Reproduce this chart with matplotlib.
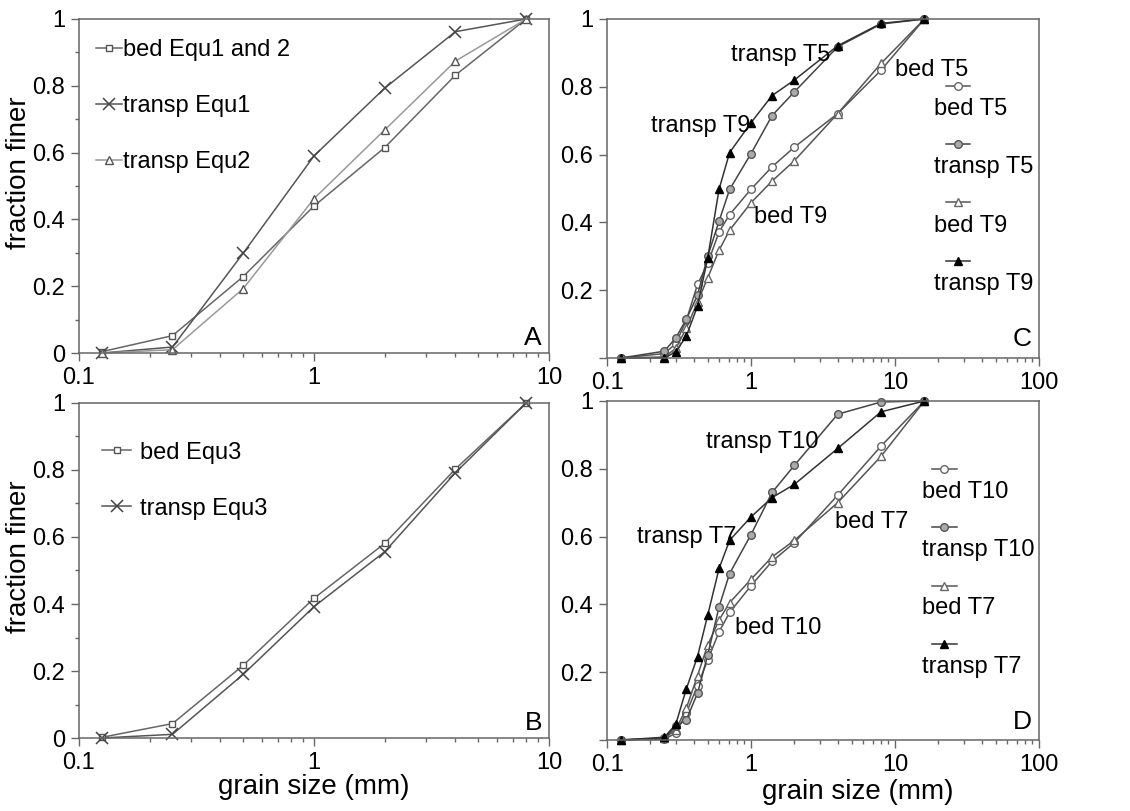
import matplotlib
matplotlib.use("Agg")
import matplotlib.pyplot as plt
import numpy as np

plt.rcParams['font.family'] = ['Liberation Sans', 'DejaVu Sans']

# sieve sizes (mm)
sizes_ab = [0.125, 0.25, 0.5, 1, 2, 4, 8]
sizes_cd = [0.125, 0.25, 0.3, 0.355, 0.425, 0.5, 0.6, 0.71, 1, 1.4, 2, 4, 8, 16]

# panel A
bed_equ12 = [0.004, 0.052, 0.229, 0.44, 0.615, 0.832, 1.0]
transp_equ1 = [0.0, 0.018, 0.299, 0.59, 0.793, 0.962, 1.0]
transp_equ2 = [0.0, 0.01, 0.193, 0.462, 0.668, 0.874, 1.0]

# panel B
bed_equ3 = [0.002, 0.043, 0.217, 0.417, 0.581, 0.803, 1.0]
transp_equ3 = [0.0, 0.011, 0.19, 0.392, 0.556, 0.792, 1.0]

# panel C
bed_t5 = [0.0, 0.013, 0.042, 0.111, 0.217, 0.279, 0.372, 0.423, 0.498, 0.564, 0.622, 0.721, 0.849, 1.0]
transp_t5 = [0.0, 0.02, 0.059, 0.114, 0.185, 0.30, 0.404, 0.497, 0.603, 0.715, 0.785, 0.918, 0.985, 1.0]
bed_t9 = [0.0, 0.003, 0.028, 0.087, 0.165, 0.236, 0.318, 0.377, 0.458, 0.522, 0.582, 0.721, 0.869, 1.0]
transp_t9 = [0.0, 0.0, 0.018, 0.064, 0.153, 0.295, 0.498, 0.606, 0.694, 0.774, 0.82, 0.921, 0.987, 1.0]

# panel D
bed_t10 = [0.0, 0.002, 0.02, 0.079, 0.16, 0.236, 0.319, 0.376, 0.455, 0.527, 0.582, 0.722, 0.867, 1.0]
transp_t10 = [0.0, 0.005, 0.04, 0.059, 0.138, 0.25, 0.393, 0.491, 0.606, 0.73, 0.81, 0.961, 0.997, 1.0]
bed_t7 = [0.0, 0.005, 0.03, 0.093, 0.19, 0.28, 0.354, 0.405, 0.474, 0.54, 0.589, 0.70, 0.837, 1.0]
transp_t7 = [0.0, 0.008, 0.046, 0.15, 0.246, 0.368, 0.506, 0.589, 0.658, 0.715, 0.754, 0.86, 0.968, 1.0]

FS = 17
frame_col = '#666666'

# marker styles
sq = dict(marker='s', ms=5, mfc='white', mec='#555555', color='#666666', lw=1.1)
cross = dict(marker='x', ms=8, mew=1.1, mec='#444444', color='#555555', lw=1.1)
tri_open_ab = dict(marker='^', ms=6, mfc='white', mec='#555555', color='#999999', lw=1.1)
circ_open = dict(marker='o', ms=5.5, mfc='white', mec='#666666', color='#555555', lw=1.1)
circ_grey = dict(marker='o', ms=5.5, mfc='#aaaaaa', mec='#555555', color='#444444', lw=1.1)
tri_open = dict(marker='^', ms=6, mfc='white', mec='#666666', color='#555555', lw=1.1)
tri_black = dict(marker='^', ms=6, mfc='black', mec='black', color='#333333', lw=1.1)


def style_axes(ax, xmax, zero_label=True, yminor=True):
    ax.set_xscale('log')
    ax.set_xlim(0.1, xmax)
    ax.set_ylim(0, 1)
    xt = [10.0 ** k for k in range(-1, int(np.log10(xmax)) + 1)]
    ax.set_xticks(xt)
    ax.set_xticklabels([('%g' % v) for v in xt])
    yt = [0, 0.2, 0.4, 0.6, 0.8, 1]
    ax.set_yticks(yt)
    ylabels = ['0', '0.2', '0.4', '0.6', '0.8', '1']
    if not zero_label:
        ylabels[0] = ''
    ax.set_yticklabels(ylabels)
    if yminor:
        ax.set_yticks(np.arange(0.1, 1.0, 0.2), minor=True)
    else:
        ax.set_yticks([], minor=True)
    ax.tick_params(which='both', direction='out', colors=frame_col,
                   labelcolor='black', labelsize=FS, width=1)
    ax.tick_params(which='major', length=6, pad=4)
    ax.tick_params(which='minor', length=3)
    for s in ax.spines.values():
        s.set_color(frame_col)
        s.set_linewidth(1.1)


def side_legend(ax, entries, mx, lx, marker_ys, label_ys):
    for (label, st), my, ly in zip(entries, marker_ys, label_ys):
        ax.plot([mx - 0.028, mx, mx + 0.028], [my, my, my], transform=ax.transAxes,
                clip_on=False, markevery=[1], **st)
        ax.text(lx, ly, label, transform=ax.transAxes, ha='left', va='center', fontsize=FS)


fig = plt.figure(figsize=(11.3, 8.11), dpi=100)
axA = fig.add_axes([0.0699, 0.5647, 0.4159, 0.4119])
axB = fig.add_axes([0.0699, 0.0900, 0.4159, 0.4131])
axC = fig.add_axes([0.5372, 0.5586, 0.3823, 0.4180])
axD = fig.add_axes([0.5372, 0.0876, 0.3823, 0.4180])

# ---- A
axA.plot(sizes_ab, bed_equ12, label='bed Equ1 and 2', clip_on=False, **sq)
axA.plot(sizes_ab, transp_equ1, label='transp Equ1', clip_on=False, **cross)
axA.plot(sizes_ab, transp_equ2, label='transp Equ2', clip_on=False, **tri_open_ab)
style_axes(axA, 10)
axA.set_ylabel('fraction finer', fontsize=20)
axA.yaxis.set_label_coords(-0.1, 0.54)
axA.legend(loc='upper left', bbox_to_anchor=(0.036, 0.94), frameon=False, fontsize=FS,
           handlelength=1.1, handletextpad=0.05, labelspacing=1.45, borderaxespad=0,
           borderpad=0, numpoints=1)
axA.text(0.985, 0.045, 'A', transform=axA.transAxes, ha='right', va='center', fontsize=19)

# ---- B
axB.plot(sizes_ab, bed_equ3, label='bed Equ3', clip_on=False, **sq)
axB.plot(sizes_ab, transp_equ3, label='transp Equ3', clip_on=False, **cross)
style_axes(axB, 10)
axB.set_ylabel('fraction finer', fontsize=20)
axB.yaxis.set_label_coords(-0.1, 0.54)
axB.set_xlabel('grain size (mm)', fontsize=20, labelpad=0)
axB.legend(loc='upper left', bbox_to_anchor=(0.05, 0.885), frameon=False, fontsize=FS,
           handlelength=1.2, handletextpad=0.4, labelspacing=1.45, borderaxespad=0,
           borderpad=0, numpoints=1)
axB.text(0.985, 0.045, 'B', transform=axB.transAxes, ha='right', va='center', fontsize=19)

# ---- C
axC.plot(sizes_cd, bed_t5, clip_on=False, **circ_open)
axC.plot(sizes_cd, bed_t9, clip_on=False, **tri_open)
axC.plot(sizes_cd, transp_t5, clip_on=False, **circ_grey)
axC.plot(sizes_cd, transp_t9, clip_on=False, **tri_black)
style_axes(axC, 100, zero_label=False, yminor=False)
axC.text(0.73, 0.894, 'transp T5', ha='left', va='center', fontsize=FS)
axC.text(0.203, 0.684, 'transp T9', ha='left', va='center', fontsize=FS)
axC.text(1.044, 0.416, 'bed T9', ha='left', va='center', fontsize=FS)
axC.text(10.05, 0.849, 'bed T5', ha='left', va='center', fontsize=FS)
axC.text(0.983, 0.057, 'C', transform=axC.transAxes, ha='right', va='center', fontsize=19)
side_legend(axC, [('bed T5', circ_open), ('transp T5', circ_grey),
                  ('bed T9', tri_open), ('transp T9', tri_black)],
            0.812, 0.756, [0.802, 0.63, 0.459, 0.285], [0.734, 0.564, 0.39, 0.217])

# ---- D
axD.plot(sizes_cd, bed_t10, clip_on=False, **circ_open)
axD.plot(sizes_cd, bed_t7, clip_on=False, **tri_open)
axD.plot(sizes_cd, transp_t10, clip_on=False, **circ_grey)
axD.plot(sizes_cd, transp_t7, clip_on=False, **tri_black)
style_axes(axD, 100, zero_label=False, yminor=False)
axD.set_xlabel('grain size (mm)', fontsize=20, labelpad=0)
axD.xaxis.set_label_coords(0.58, -0.115)
axD.text(0.487, 0.879, 'transp T10', ha='left', va='center', fontsize=FS)
axD.text(0.1615, 0.599, 'transp T7', ha='left', va='center', fontsize=FS)
axD.text(3.81, 0.643, 'bed T7', ha='left', va='center', fontsize=FS)
axD.text(0.778, 0.329, 'bed T10', ha='left', va='center', fontsize=FS)
axD.text(0.983, 0.054, 'D', transform=axD.transAxes, ha='right', va='center', fontsize=19)
side_legend(axD, [('bed T10', circ_open), ('transp T10', circ_grey),
                  ('bed T7', tri_open), ('transp T7', tri_black)],
            0.781, 0.728, [0.80, 0.629, 0.455, 0.282], [0.732, 0.56, 0.388, 0.216])

fig.savefig('out.png', dpi=100)
